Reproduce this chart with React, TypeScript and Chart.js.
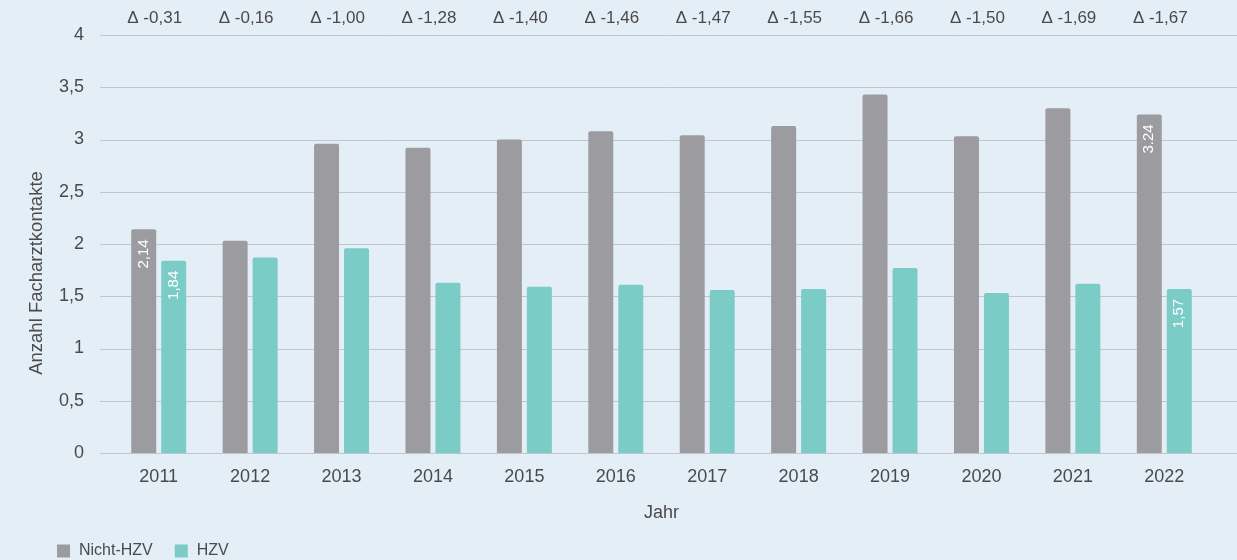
import React, { useEffect, useRef } from "react";
import { Chart, registerables } from "chart.js";

Chart.register(...registerables);

const years = ["2011", "2012", "2013", "2014", "2015", "2016", "2017", "2018", "2019", "2020", "2021", "2022"];
const nichtHzv = [2.14, 2.03, 2.96, 2.92, 3.0, 3.08, 3.04, 3.13, 3.43, 3.03, 3.3, 3.24];
const hzv = [1.84, 1.87, 1.96, 1.63, 1.59, 1.61, 1.56, 1.57, 1.77, 1.53, 1.62, 1.57];
const deltaLabels = ["Δ -0,31", "Δ -0,16", "Δ -1,00", "Δ -1,28", "Δ -1,40", "Δ -1,46", "Δ -1,47", "Δ -1,55", "Δ -1,66", "Δ -1,50", "Δ -1,69", "Δ -1,67"];
const nichtHzvBarLabels = ["2,14", "", "", "", "", "", "", "", "", "", "", "3.24"];
const hzvBarLabels = ["1,84", "", "", "", "", "", "", "", "", "", "", "1,57"];
const yTickLabels: Record<string, string> = { "0": "0", "0.5": "0,5", "1": "1", "1.5": "1,5", "2": "2", "2.5": "2,5", "3": "3", "3.5": "3,5", "4": "4" };

const FONT = "'Liberation Sans', Arial, sans-serif";
const TEXT = "#4a4a4a";
const GRAY = "#9c9ca0";
const TEAL = "#7bcbc6";
const GRID = "#c2c6cc";

const overlay = {
  id: "overlay",
  beforeDatasetsDraw(chart: any) {
    const { ctx, scales } = chart;
    const y = scales.y;
    ctx.save();
    ctx.strokeStyle = GRID;
    ctx.lineWidth = 1;
    y.ticks.forEach((t: any) => {
      const py = Math.round(y.getPixelForValue(t.value)) + 0.5;
      ctx.beginPath();
      ctx.moveTo(100, py);
      ctx.lineTo(chart.width, py);
      ctx.stroke();
    });
    ctx.restore();
  },
  afterDatasetsDraw(chart: any) {
    const { ctx, scales } = chart;
    const x = scales.x;
    ctx.save();
    // delta labels
    ctx.fillStyle = TEXT;
    ctx.font = `17px ${FONT}`;
    ctx.textAlign = "center";
    ctx.textBaseline = "middle";
    deltaLabels.forEach((lbl, i) => {
      ctx.fillText(lbl, x.getPixelForValue(i) - 4, 18);
    });
    // bar labels
    const labelSets = [nichtHzvBarLabels, hzvBarLabels];
    ctx.fillStyle = "#ffffff";
    ctx.font = `15px ${FONT}`;
    labelSets.forEach((set, di) => {
      const meta = chart.getDatasetMeta(di);
      set.forEach((lbl, i) => {
        if (!lbl) return;
        const el = meta.data[i];
        ctx.save();
        ctx.translate(el.x, el.y + 10);
        ctx.rotate(-Math.PI / 2);
        ctx.textAlign = "right";
        ctx.textBaseline = "middle";
        ctx.fillText(lbl, 0, 0);
        ctx.restore();
      });
    });
    // y title
    ctx.fillStyle = TEXT;
    ctx.font = `18.5px ${FONT}`;
    ctx.save();
    ctx.translate(37, 273);
    ctx.rotate(-Math.PI / 2);
    ctx.textAlign = "center";
    ctx.textBaseline = "middle";
    ctx.fillText("Anzahl Facharztkontakte", 0, 0);
    ctx.restore();
    // legend
    ctx.font = `16px ${FONT}`;
    ctx.textAlign = "left";
    ctx.textBaseline = "middle";
    let lx = 57;
    const ly = 551;
    chart.data.datasets.forEach((ds: any) => {
      ctx.fillStyle = ds.backgroundColor;
      ctx.fillRect(lx, ly - 6.5, 13, 13);
      ctx.fillStyle = TEXT;
      ctx.fillText(ds.label, lx + 22, ly);
      lx += 22 + ctx.measureText(ds.label).width + 22;
    });
    ctx.restore();
  },
};

export default function App() {
  const ref = useRef<HTMLCanvasElement>(null);
  useEffect(() => {
    document.body.style.margin = "0";
    const chart = new Chart(ref.current!, {
      type: "bar",
      data: {
        labels: years,
        datasets: [
          { label: "Nicht-HZV", data: nichtHzv, backgroundColor: GRAY, borderRadius: 2, borderSkipped: "bottom" },
          { label: "HZV", data: hzv, backgroundColor: TEAL, borderRadius: 2, borderSkipped: "bottom" },
        ],
      },
      options: {
        animation: false,
        responsive: false,
        maintainAspectRatio: false,
        datasets: { bar: { categoryPercentage: 0.656, barPercentage: 0.833 } },
        layout: { padding: { top: 35, right: 27, left: 0, bottom: 0 } },
        plugins: { legend: { display: false }, tooltip: { enabled: false } },
        scales: {
          x: {
            grid: { display: false, drawTicks: false },
            border: { display: false },
            ticks: { color: TEXT, font: { family: FONT, size: 18 }, padding: 13 },
            title: { display: true, text: "Jahr", color: TEXT, font: { family: FONT, size: 18 }, padding: { top: 0, bottom: 36 } },
            afterFit: (s: any) => { s.height = 107; },
          },
          y: {
            min: 0,
            max: 4,
            grid: { display: false, drawTicks: false },
            border: { display: false },
            ticks: {
              stepSize: 0.5,
              color: TEXT,
              font: { family: FONT, size: 18 },
              padding: 29,
              callback: (v: any) => yTickLabels[String(v)] ?? String(v),
            },
            afterFit: (s: any) => { s.width = 113; s.paddingTop = 0; s.paddingBottom = 0; },
          },
        },
      },
      plugins: [overlay],
    });
    return () => chart.destroy();
  }, []);
  return (
    <div style={{ position: "fixed", left: 0, top: 0, width: 1237, height: 560, background: "#e4eef7" }}>
      <canvas ref={ref} width={1237} height={560} style={{ width: 1237, height: 560, display: "block" }} />
    </div>
  );
}
